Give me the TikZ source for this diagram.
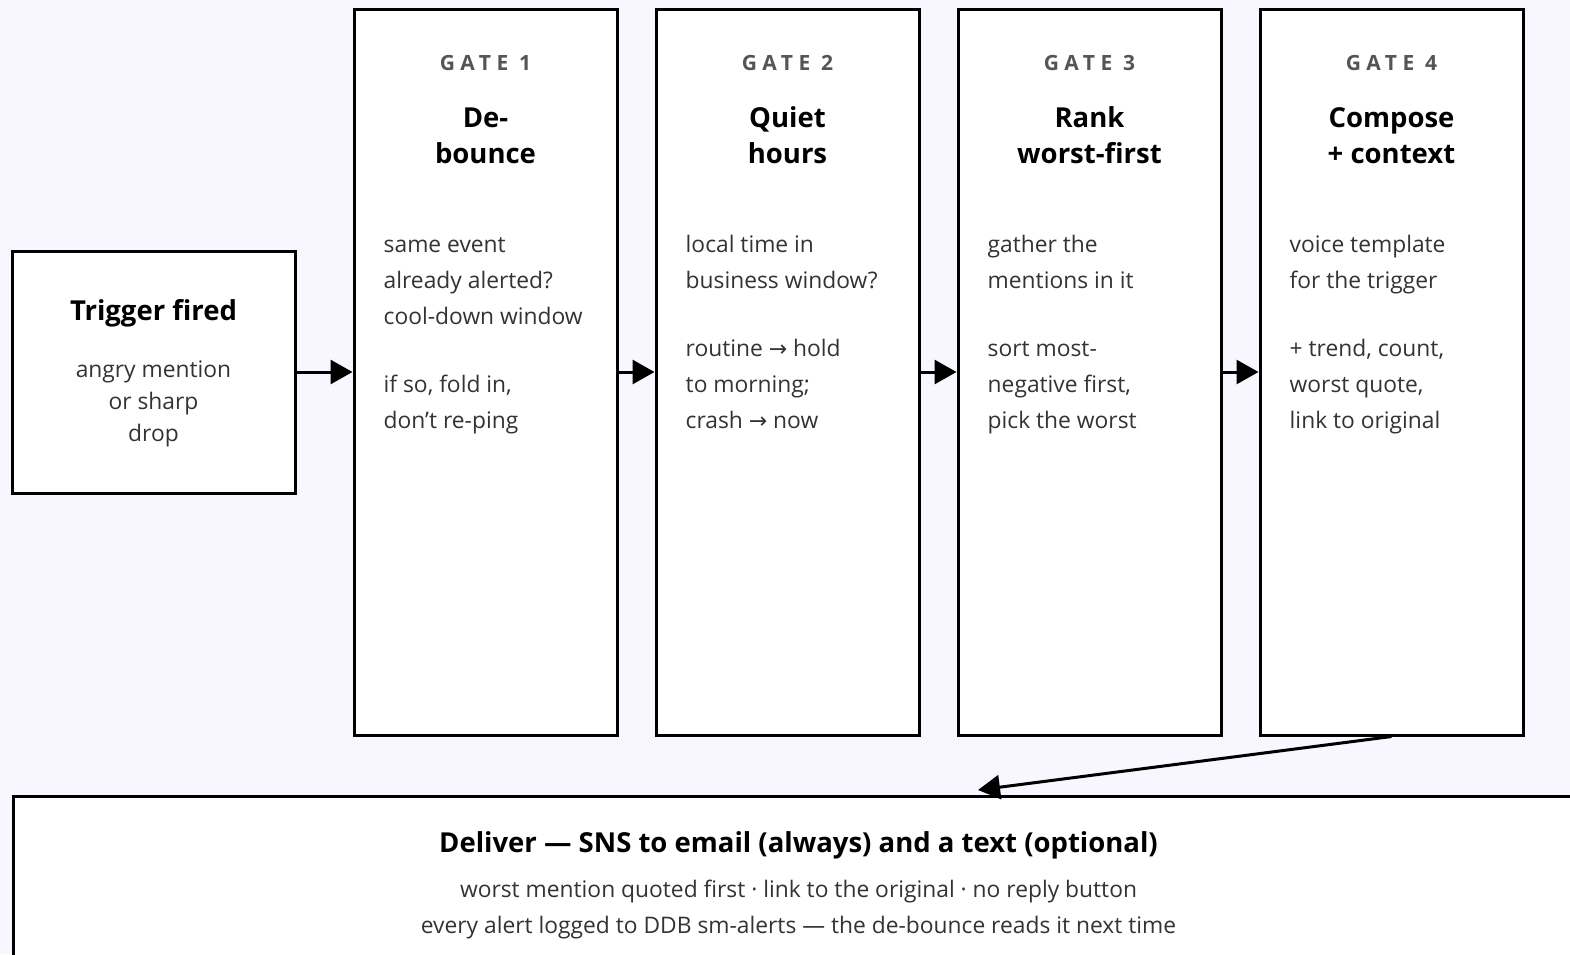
\documentclass[tikz,border=0pt]{standalone}
\usepackage{fontspec}
\setmainfont{Open Sans}
\newfontfamily\gatefont[LetterSpace=26]{Open Sans}
\newfontfamily\arrfont{DejaVu Sans}
\usetikzlibrary{arrows.meta,positioning,calc}
\definecolor{bgcol}{RGB}{248,247,255}
\definecolor{bodycol}{RGB}{51,51,51}
\definecolor{labcol}{RGB}{85,85,85}
\newcommand{\ra}{{\arrfont\fontsize{22}{36}\selectfont →}}

\tikzset{
    box/.style={draw=black, line width=3pt, fill=white, inner sep=0pt},
    gatebox/.style={box, minimum width=263pt, minimum height=726pt},
    gatelabel/.style={anchor=base, inner sep=0pt, text=labcol, font=\gatefont\bfseries\fontsize{21}{24}\selectfont},
    titletext/.style={inner sep=0pt, align=center, font=\bfseries\fontsize{27.5}{36}\selectfont},
    bodytext/.style={inner sep=0pt, text=bodycol, font=\fontsize{22.8}{36}\selectfont},
    arr/.style={line width=3pt, -{Triangle[length=22pt,width=24pt]}}
}

\begin{document}
\begin{tikzpicture}[x=1pt,y=-1pt]

    \useasboundingbox (0,0) rectangle (1570,954);
    \clip (0,0) rectangle (1570,954);
    \fill[bgcol] (0,0) rectangle (1570,954);

    % trigger box on the left
    \node[box, minimum width=283pt, minimum height=242pt] (trig) at (153.5,372) {};
    \node[titletext, anchor=base] (trig-ttl) at (153.5,320) {Trigger fired};
    \node[bodytext, anchor=base, align=center, font=\fontsize{22.8}{32}\selectfont] (trig-txt) at (153.5,441) {angry mention\\or sharp\\drop};

    % the four gates (base anchor = last line)
    \foreach \i/\ttl/\bdy in {
        1/{De-\\bounce}/{same event\\already alerted?\\cool-down window\\[32pt]if so, fold in,\\don’t re-ping},
        2/{Quiet\\hours}/{local time in\\business window?\\[32pt]routine \ra{} hold\\to morning;\\crash \ra{} now},
        3/{Rank\\worst-first}/{gather the\\mentions in it\\[32pt]sort most-\\negative first,\\pick the worst},
        4/{Compose\\+ context}/{voice template\\for the trigger\\[32pt]+ trend, count,\\worst quote,\\link to original}} {
        \pgfmathsetmacro{\cx}{485.5+302*(\i-1)}
        \node[gatebox] (g\i) at (\cx,372) {};
        \node[gatelabel] (g\i-lab) at (\cx,70) {GATE \i};
        \node[titletext, anchor=base] (g\i-ttl) at (\cx,163) {\ttl};
        \node[bodytext, anchor=base west, align=left] (g\i-txt) at ($(g\i.north west)+(31,421)$) {\bdy};
    }

    % delivery box, runs off the page
    \node[box, anchor=north west, minimum width=1570pt, minimum height=240pt] (dlv) at (12,795) {};
    \node[titletext, anchor=base] (dlv-ttl) at ($(dlv.north)+(0,57)$) {Deliver — SNS to email (always) and a text (optional)};
    \node[bodytext, anchor=base, align=center] (dlv-txt) at ($(dlv.north)+(0,138)$) {worst mention quoted first · link to the original · no reply button\\every alert logged to DDB sm-alerts — the de-bounce reads it next time};
    \coordinate (dlv-in) at ($(dlv.north west)+(966,-5)$);

    % connectors
    \draw[arr] (trig) -- (g1);
    \foreach \a/\b in {1/2, 2/3, 3/4}
        \draw[arr] (g\a) -- (g\b);
    \draw[arr] (g4.south) -- (dlv-in);

\end{tikzpicture}
\end{document}
